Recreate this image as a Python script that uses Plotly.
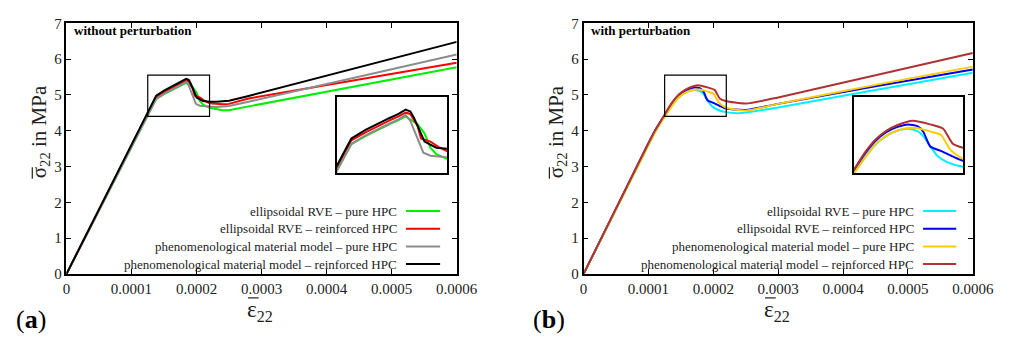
import plotly.graph_objects as go

# ---------------- data ----------------
x_tick_vals = [0, 0.0001, 0.0002, 0.0003, 0.0004, 0.0005, 0.0006]
x_tick_text = ["0", "0.0001", "0.0002", "0.0003", "0.0004", "0.0005", "0.0006"]
y_tick_vals = [0, 1, 2, 3, 4, 5, 6, 7]

names_a = ["ellipsoidal RVE \u2013 pure HPC", "ellipsoidal RVE \u2013 reinforced HPC",
           "phenomenological material model \u2013 pure HPC",
           "phenomenological material model \u2013 reinforced HPC"]
colors_a = ["#00ee00", "#ff0000", "#8c8c8c", "#000000"]
colors_b = ["#00f0ff", "#0000ee", "#ffcc00", "#b03232"]

# panel (a): without perturbation
a_green_x = [0, 0.000138, 0.00015, 0.00016, 0.00017, 0.000178, 0.000184, 0.000194, 0.0002, 0.000205, 0.00021, 0.00022, 0.00024, 0.00025, 0.00028, 0.0006]
a_green_y = [0, 4.89, 5.02, 5.12, 5.21, 5.28, 5.34, 5.215, 5.065, 4.83, 4.725, 4.64, 4.57, 4.57, 4.68, 5.77]
a_red_x = [0, 0.000138, 0.00015, 0.00016, 0.00017, 0.000178, 0.000184, 0.000188, 0.000194, 0.000197, 0.000205, 0.000213, 0.00022, 0.00024, 0.00025, 0.00028, 0.0006]
a_red_y = [0, 4.95, 5.08, 5.18, 5.27, 5.34, 5.40, 5.38, 5.19, 4.98, 4.93, 4.83, 4.765, 4.74, 4.75, 4.90, 5.90]
a_grey_x = [0, 0.000138, 0.00015, 0.00016, 0.00017, 0.000178, 0.000184, 0.000188, 0.000194, 0.000199, 0.000205, 0.00022, 0.00023, 0.00025, 0.00028, 0.0006]
a_grey_y = [0, 4.89, 5.03, 5.13, 5.22, 5.29, 5.36, 5.265, 4.98, 4.75, 4.70, 4.67, 4.66, 4.69, 4.81, 6.13]
a_black_x = [0, 0.000138, 0.00015, 0.00016, 0.00017, 0.000178, 0.000184, 0.000188, 0.000191, 0.0002, 0.00021, 0.00022, 0.00023, 0.00025, 0.00028, 0.0006]
a_black_y = [0, 4.98, 5.12, 5.22, 5.31, 5.38, 5.45, 5.42, 5.32, 4.93, 4.83, 4.81, 4.81, 4.84, 4.97, 6.48]

# panel (b): with perturbation
b_cyan_x = [0, 0.0001, 0.00011, 0.00012, 0.000126, 0.000135, 0.000144, 0.000153, 0.000163, 0.000172, 0.00018, 0.000185, 0.00019, 0.000197, 0.000205, 0.000219, 0.00024, 0.0003, 0.00045, 0.0006]
b_cyan_y = [0, 3.6, 3.95, 4.25, 4.42, 4.67, 4.88, 5.02, 5.11, 5.14, 5.10, 5.02, 4.88, 4.70, 4.60, 4.52, 4.49, 4.65, 5.14, 5.62]
b_blue_x = [0, 0.0001, 0.00011, 0.00012, 0.000126, 0.000135, 0.000144, 0.000153, 0.000163, 0.000172, 0.00018, 0.000185, 0.000191, 0.0002, 0.00021, 0.000219, 0.00025, 0.0003, 0.00045, 0.0006]
b_blue_y = [0, 3.65, 4.0, 4.3, 4.47, 4.73, 4.94, 5.08, 5.17, 5.21, 5.18, 5.09, 4.85, 4.78, 4.69, 4.62, 4.58, 4.75, 5.24, 5.71]
b_yellow_x = [0, 0.0001, 0.00011, 0.00012, 0.000126, 0.000135, 0.000144, 0.000153, 0.000163, 0.000172, 0.000179, 0.00019, 0.0002, 0.000208, 0.000219, 0.00025, 0.0003, 0.00045, 0.0006]
b_yellow_y = [0, 3.6, 3.95, 4.25, 4.42, 4.66, 4.88, 5.02, 5.11, 5.15, 5.15, 5.10, 5.04, 4.80, 4.65, 4.56, 4.75, 5.28, 5.79]
b_brown_x = [0, 0.0001, 0.00011, 0.00012, 0.000126, 0.000135, 0.000144, 0.000153, 0.000163, 0.000176, 0.000191, 0.000202, 0.00021, 0.000219, 0.00025, 0.0003, 0.00045, 0.0006]
b_brown_y = [0, 3.65, 4.0, 4.3, 4.48, 4.75, 4.96, 5.10, 5.20, 5.27, 5.21, 5.14, 4.90, 4.83, 4.76, 4.93, 5.55, 6.17]

zoom_x = [0.000125, 0.00022]
zoom_y = [4.4, 5.55]
inset_x_range = [0.0001256, 0.000219]
inset_y_range = [4.42, 5.66]

# ---------------- figure ----------------
FONT = "Liberation Serif"
W, H = 1027, 345

def px(xp):
    return xp / W

def py(yp):
    return 1 - yp / H

fig = go.Figure()

series_a = [(a_green_x, a_green_y), (a_red_x, a_red_y), (a_grey_x, a_grey_y), (a_black_x, a_black_y)]
series_b = [(b_cyan_x, b_cyan_y), (b_blue_x, b_blue_y), (b_yellow_x, b_yellow_y), (b_brown_x, b_brown_y)]

for (xs, ys), c in zip(series_a, colors_a):
    fig.add_trace(go.Scatter(x=xs, y=ys, mode="lines", line=dict(color=c, width=2),
                             xaxis="x", yaxis="y", showlegend=False))
    fig.add_trace(go.Scatter(x=xs, y=ys, mode="lines", line=dict(color=c, width=2),
                             xaxis="x3", yaxis="y3", showlegend=False))
for (xs, ys), c in zip(series_b, colors_b):
    fig.add_trace(go.Scatter(x=xs, y=ys, mode="lines", line=dict(color=c, width=2, shape="spline", smoothing=0.6),
                             xaxis="x2", yaxis="y2", showlegend=False))
    fig.add_trace(go.Scatter(x=xs, y=ys, mode="lines", line=dict(color=c, width=2, shape="spline", smoothing=0.6),
                             xaxis="x4", yaxis="y4", showlegend=False))

main_y_dom = [py(279), py(16)]
ax_common = dict(showline=True, linecolor="black", linewidth=1.5, mirror="ticks",
                 ticks="inside", ticklen=5, tickcolor="black", tickwidth=1,
                 showgrid=False, zeroline=False,
                 tickfont=dict(family=FONT, size=15, color="#222"))
inset_common = dict(showline=True, linecolor="black", linewidth=1.5, mirror=True,
                    ticks="", showticklabels=False, showgrid=False, zeroline=False)

fig.update_layout(
    width=W, height=H, margin=dict(l=0, r=0, t=0, b=0),
    paper_bgcolor="white", plot_bgcolor="white",
    xaxis=dict(domain=[px(64), px(464)], range=[0, 0.0006], anchor="y",
               tickvals=x_tick_vals, ticktext=x_tick_text, **ax_common),
    yaxis=dict(domain=main_y_dom, range=[0, 7], anchor="x", tickvals=y_tick_vals, **ax_common),
    xaxis2=dict(domain=[px(594), px(993)], range=[0, 0.0006], anchor="y2",
                tickvals=x_tick_vals, ticktext=x_tick_text, **ax_common),
    yaxis2=dict(domain=main_y_dom, range=[0, 7], anchor="x2", tickvals=y_tick_vals, **ax_common),
    xaxis3=dict(domain=[px(341), px(454)], range=inset_x_range, anchor="y3", **inset_common),
    yaxis3=dict(domain=[py(173), py(93)], range=inset_y_range, anchor="x3", **inset_common),
    xaxis4=dict(domain=[px(871), px(983)], range=inset_x_range, anchor="y4", **inset_common),
    yaxis4=dict(domain=[py(173), py(93)], range=inset_y_range, anchor="x4", **inset_common),
)

shapes = []
for xr, yr in (("x", "y"), ("x2", "y2")):
    shapes.append(dict(type="rect", xref=xr, yref=yr, x0=zoom_x[0], x1=zoom_x[1],
                       y0=zoom_y[0], y1=zoom_y[1], line=dict(color="black", width=1.2)))

annotations = []
legend_rows = [213, 231.5, 250, 268.5]
for text_right, line_x0, line_x1, cols in ((404, 412, 447, colors_a), (934, 942, 976, colors_b)):
    for name, c, yy in zip(names_a, cols, legend_rows):
        annotations.append(dict(xref="paper", yref="paper", x=px(text_right), y=py(yy),
                                text=name, showarrow=False, xanchor="right", yanchor="middle",
                                borderpad=0,
                                font=dict(family=FONT, size=13, color="#222")))
        shapes.append(dict(type="line", xref="paper", yref="paper", x0=px(line_x0), x1=px(line_x1),
                           y0=py(yy), y1=py(yy), line=dict(color=c, width=2)))

# panel labels
annotations.append(dict(xref="paper", yref="paper", x=px(70), y=py(24), text="<b>without perturbation</b>",
                        showarrow=False, xanchor="left", yanchor="middle",
                        font=dict(family=FONT, size=13, color="black")))
annotations.append(dict(xref="paper", yref="paper", x=px(600), y=py(24), text="<b>with perturbation</b>",
                        showarrow=False, xanchor="left", yanchor="middle",
                        font=dict(family=FONT, size=13, color="black")))
# axis titles (overlines drawn as short lines)
for off in (0, 530):
    annotations.append(dict(xref="paper", yref="paper", x=px(248 + off), y=py(318),
                            text="\u03b5<sub>22</sub>", showarrow=False,
                            xanchor="left", yanchor="middle", borderpad=0,
                            font=dict(family=FONT, size=23, color="#222")))
    shapes.append(dict(type="line", xref="paper", yref="paper", x0=px(250 + off), x1=px(261 + off),
                       y0=py(304), y1=py(304), line=dict(color="#222", width=1.2)))
    annotations.append(dict(xref="paper", yref="paper", x=px(37 + off), y=py(180),
                            text="\u03c3<sub>22</sub> in MPa", showarrow=False, textangle=-90,
                            xanchor="center", yanchor="bottom", borderpad=0,
                            font=dict(family=FONT, size=21, color="#222")))
    shapes.append(dict(type="line", xref="paper", yref="paper", x0=px(29 + off), x1=px(29 + off),
                       y0=py(167), y1=py(179), line=dict(color="#222", width=1.2)))
for xc, lab in ((10, "(<b>a</b>)"), (540, "(<b>b</b>)")):
    annotations.append(dict(xref="paper", yref="paper", x=px(xc), y=py(327),
                            text=lab, showarrow=False, xanchor="left", yanchor="middle",
                            font=dict(family=FONT, size=26, color="black")))

fig.update_layout(shapes=shapes, annotations=annotations)
fig.write_html("out.html")
